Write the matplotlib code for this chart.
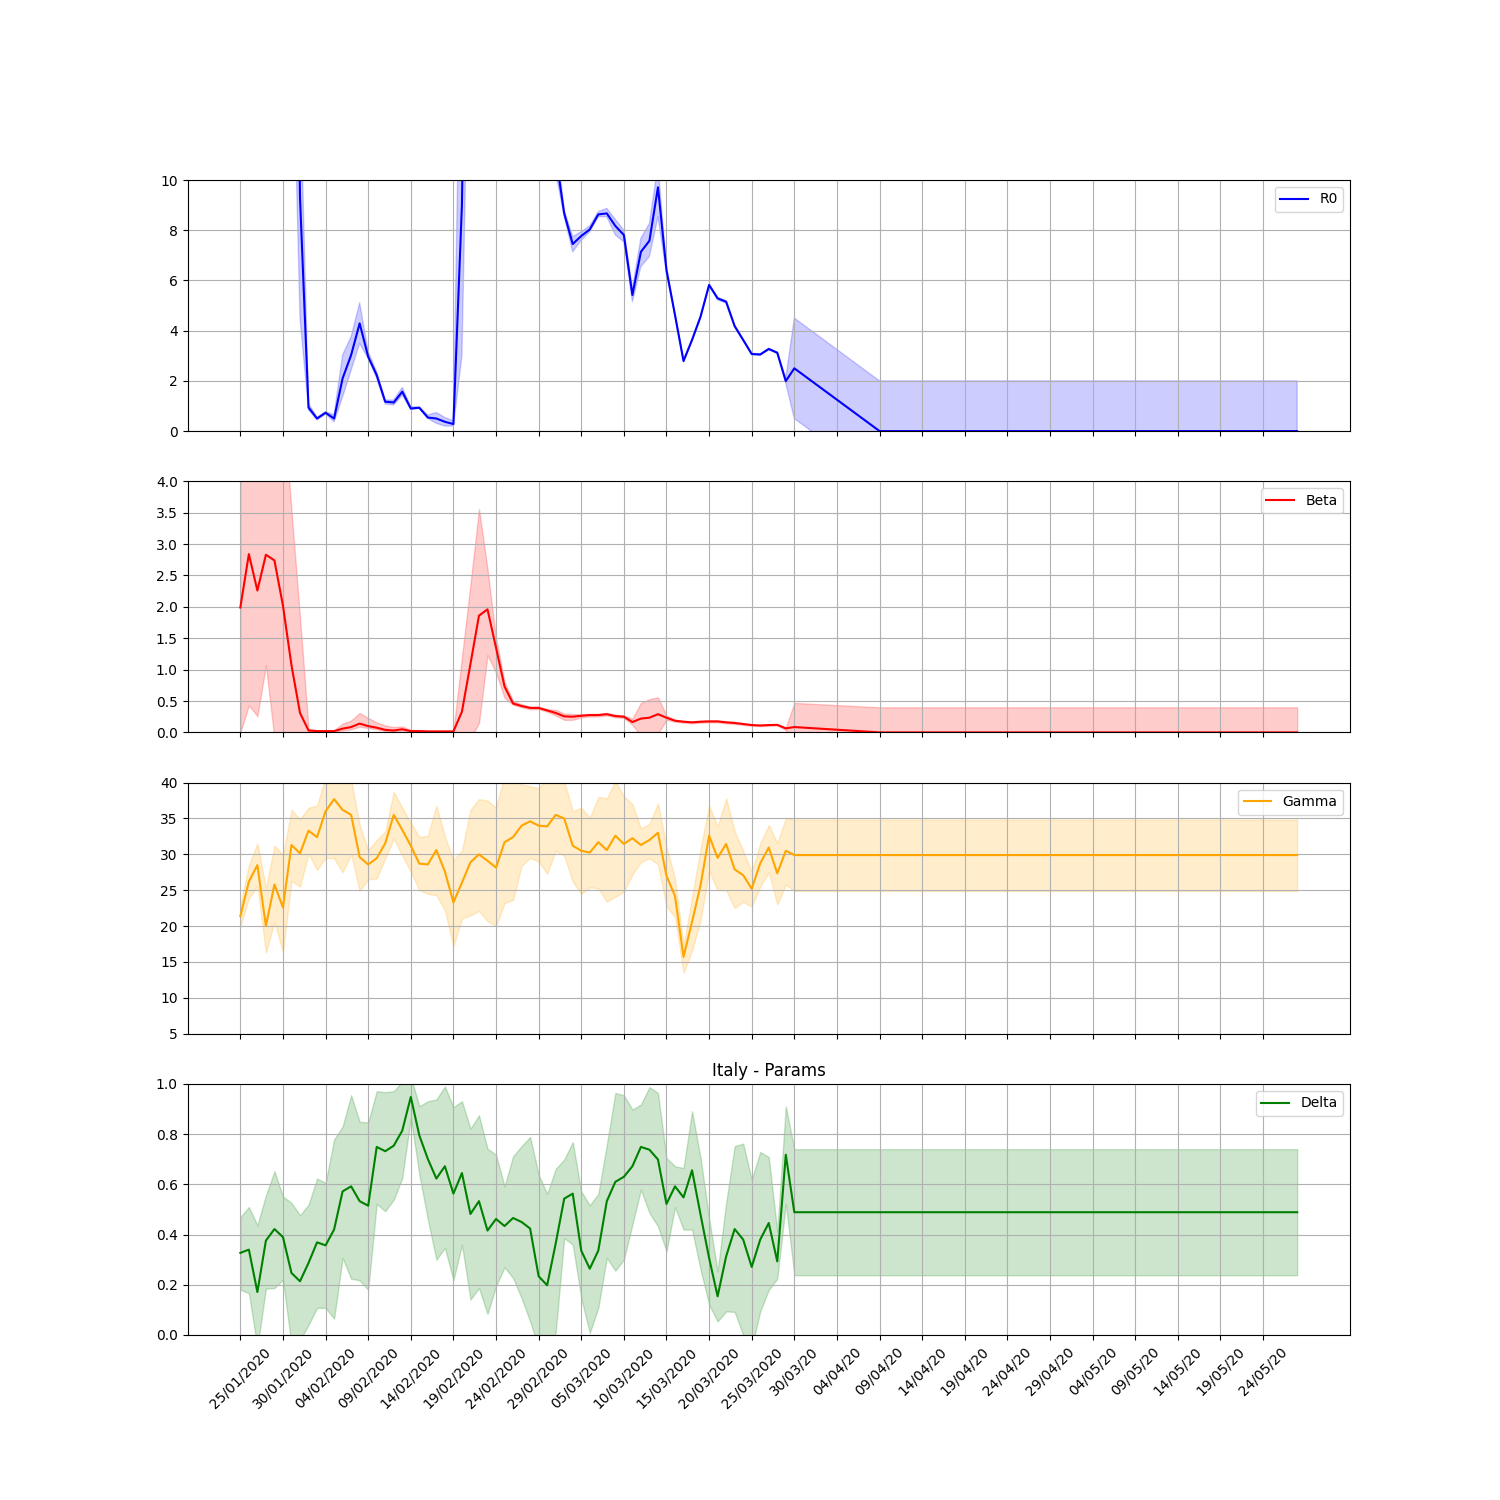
import matplotlib
matplotlib.use('Agg')

import matplotlib.pyplot as plt

# observed days (index from 25/01/2020) plus the projection points
days_obs = list(range(65))
days_fc = [65, 75, 124]

# R0
r0_obs = [42.8, 74.0, 64.0, 57.0, 71.0, 46.0, 33.5, 9.3, 0.94, 0.50,
          0.73, 0.50, 2.10, 3.03, 4.29, 2.96, 2.23, 1.17, 1.14, 1.57,
          0.90, 0.93, 0.54, 0.50, 0.37, 0.28, 9.0, 31.5, 55.8, 57.0,
          38.0, 23.0, 14.9, 14.6, 13.5, 13.3, 11.9, 11.0, 8.67, 7.45,
          7.77, 8.03, 8.63, 8.67, 8.17, 7.81, 5.42, 7.14, 7.58, 9.71,
          6.41, 4.62, 2.79, 3.63, 4.56, 5.82, 5.29, 5.15, 4.18, 3.63,
          3.07, 3.05, 3.27, 3.12, 1.99]
r0_lo_obs = [20.0, 40.0, 35.0, 30.0, 38.0, 25.0, 18.0, 4.5, 0.84, 0.45,
             0.68, 0.37, 1.37, 2.43, 3.49, 2.90, 2.10, 1.08, 1.04, 1.43,
             0.86, 0.90, 0.50, 0.31, 0.20, 0.20, 3.0, 20.0, 40.0, 45.0,
             30.0, 18.0, 12.5, 12.5, 11.5, 11.5, 10.6, 10.3, 8.54, 7.14,
             7.60, 7.94, 8.54, 8.54, 7.81, 7.54, 5.15, 6.55, 6.95, 8.54,
             6.28, 4.59, 2.76, 3.60, 4.53, 5.79, 5.22, 5.10, 4.14, 3.60,
             3.04, 3.02, 3.24, 3.09, 1.90]
r0_hi_obs = [70.0, 110.0, 95.0, 85.0, 105.0, 70.0, 50.0, 14.0, 1.10, 0.55,
             0.78, 0.64, 3.03, 3.76, 5.11, 3.16, 2.36, 1.24, 1.24, 1.74,
             0.97, 0.96, 0.64, 0.74, 0.54, 0.41, 20.0, 45.0, 75.0, 70.0,
             48.0, 30.0, 18.0, 17.0, 15.5, 15.0, 13.2, 11.8, 8.80, 7.74,
             7.94, 8.17, 8.74, 8.87, 8.43, 8.00, 5.68, 7.68, 8.27, 10.6,
             6.55, 4.66, 2.83, 3.67, 4.60, 5.86, 5.31, 5.20, 4.22, 3.66,
             3.10, 3.08, 3.30, 3.15, 2.10]
r0_fc = [2.5, 0.0, 0.0]
r0_lo_fc = [0.5, -2.0, -2.0]
r0_hi_fc = [4.5, 2.0, 2.0]

# Beta
beta_obs = [1.99, 2.84, 2.26, 2.83, 2.74, 2.02, 1.07, 0.31, 0.03, 0.02,
            0.02, 0.02, 0.06, 0.085, 0.14, 0.10, 0.075, 0.04, 0.03, 0.05,
            0.02, 0.02, 0.015, 0.015, 0.015, 0.015, 0.33, 1.09, 1.86, 1.96,
            1.35, 0.73, 0.46, 0.42, 0.39, 0.39, 0.35, 0.31, 0.255, 0.25,
            0.265, 0.276, 0.276, 0.29, 0.26, 0.25, 0.165, 0.22, 0.234, 0.29,
            0.234, 0.186, 0.17, 0.16, 0.17, 0.175, 0.175, 0.16, 0.15, 0.133,
            0.117, 0.11, 0.117, 0.12, 0.064]
beta_lo_obs = [0.0, 0.43, 0.26, 1.07, -0.1, -1.0, -1.5, -0.8, 0.01, 0.005,
               0.005, 0.005, 0.03, 0.05, 0.09, 0.07, 0.05, 0.02, 0.02, 0.03,
               0.01, 0.01, 0.005, 0.005, 0.005, 0.005, -0.05, -0.1, 0.15, 1.23,
               0.95, 0.55, 0.44, 0.40, 0.37, 0.37, 0.33, 0.27, 0.20, 0.20,
               0.24, 0.255, 0.255, 0.27, 0.24, 0.23, 0.12, -0.05, -0.1, -0.02,
               0.20, 0.17, 0.155, 0.145, 0.155, 0.16, 0.16, 0.145, 0.135, 0.12,
               0.105, 0.10, 0.105, 0.11, 0.04]
beta_hi_obs = [5.0, 5.5, 5.0, 5.2, 5.5, 5.3, 3.53, 1.83, 0.06, 0.035,
               0.035, 0.035, 0.14, 0.19, 0.31, 0.23, 0.16, 0.11, 0.085, 0.095,
               0.04, 0.035, 0.03, 0.03, 0.03, 0.03, 1.2, 2.36, 3.56, 2.6,
               1.5, 0.8, 0.5, 0.45, 0.41, 0.41, 0.37, 0.36, 0.30, 0.29,
               0.29, 0.295, 0.295, 0.31, 0.28, 0.27, 0.22, 0.47, 0.53, 0.56,
               0.27, 0.20, 0.185, 0.175, 0.185, 0.19, 0.19, 0.175, 0.165, 0.145,
               0.13, 0.12, 0.13, 0.13, 0.08]
beta_fc = [0.085, 0.0, 0.0]
beta_lo_fc = [-0.3, -0.4, -0.4]
beta_hi_fc = [0.47, 0.4, 0.4]

# Gamma
gamma_obs = [21.4, 26.2, 28.5, 20.0, 25.8, 22.6, 31.3, 30.15, 33.3, 32.4,
             36.0, 37.7, 36.2, 35.5, 29.6, 28.6, 29.45, 31.55, 35.5, 33.4,
             31.2, 28.7, 28.6, 30.6, 27.6, 23.3, 26.05, 28.9, 30.0, 29.1,
             28.15, 31.7, 32.4, 34.0, 34.6, 34.0, 33.9, 35.5, 35.0, 31.2,
             30.5, 30.25, 31.7, 30.6, 32.6, 31.45, 32.25, 31.3, 32.0, 33.0,
             27.0, 24.2, 15.7, 20.6, 25.7, 32.6, 29.5, 31.45, 27.9, 27.1,
             25.2, 28.75, 30.95, 27.35, 30.5]
gamma_lo_obs = [19.9, 23.9, 25.6, 16.3, 20.6, 16.4, 26.3, 25.5, 30.1, 27.8,
                29.5, 29.45, 27.5, 30.0, 24.9, 26.5, 26.65, 29.45, 32.2, 29.8,
                27.6, 25.0, 24.5, 24.3, 22.2, 17.2, 21.05, 21.5, 22.1, 20.7,
                20.0, 23.2, 23.65, 28.4, 29.5, 29.0, 27.3, 30.5, 29.8, 26.2,
                24.5, 25.4, 25.25, 23.4, 24.1, 24.8, 27.2, 28.9, 29.45, 28.6,
                22.7, 21.3, 13.5, 16.6, 20.8, 27.7, 25.0, 25.0, 22.5, 23.4,
                22.7, 25.5, 27.5, 23.0, 25.8]
gamma_hi_obs = [23.0, 28.5, 31.55, 25.3, 31.2, 29.9, 36.2, 34.9, 36.5, 36.8,
                40.8, 42.0, 42.0, 40.3, 34.1, 30.6, 32.0, 33.2, 38.7, 36.5,
                34.4, 32.4, 32.6, 36.8, 32.5, 29.2, 30.5, 36.2, 37.7, 37.5,
                36.5, 41.0, 41.0, 39.7, 39.5, 39.2, 40.5, 41.0, 40.2, 36.0,
                36.5, 35.1, 38.0, 37.8, 40.2, 38.1, 37.0, 33.6, 34.2, 37.1,
                31.1, 26.6, 17.3, 24.0, 30.85, 36.8, 33.9, 37.8, 33.2, 30.5,
                27.6, 31.55, 34.1, 31.55, 35.05]
gamma_fc = [29.9, 29.9, 29.9]
gamma_lo_fc = [24.9, 24.9, 24.9]
gamma_hi_fc = [34.85, 34.85, 34.85]

# Delta
delta_obs = [0.327, 0.34, 0.171, 0.376, 0.422, 0.39, 0.247, 0.214, 0.287, 0.369,
             0.357, 0.42, 0.572, 0.592, 0.533, 0.515, 0.749, 0.732, 0.754, 0.814,
             0.948, 0.795, 0.701, 0.623, 0.672, 0.563, 0.645, 0.482, 0.533, 0.416,
             0.462, 0.434, 0.466, 0.45, 0.424, 0.234, 0.198, 0.364, 0.543, 0.563,
             0.336, 0.264, 0.336, 0.533, 0.61, 0.63, 0.672, 0.749, 0.738, 0.699,
             0.522, 0.592, 0.548, 0.656, 0.479, 0.307, 0.154, 0.313, 0.422, 0.38,
             0.271, 0.38, 0.446, 0.293, 0.718]
delta_lo_obs = [0.18, 0.167, -0.05, 0.185, 0.187, 0.22, -0.04, -0.02, 0.04, 0.108,
                0.108, 0.065, 0.307, 0.224, 0.218, 0.18, 0.522, 0.493, 0.539, 0.625,
                0.865, 0.639, 0.46, 0.30, 0.347, 0.218, 0.36, 0.141, 0.187, 0.084,
                0.194, 0.27, 0.227, 0.147, 0.054, -0.05, -0.08, 0.01, 0.386, 0.36,
                0.147, 0.008, 0.108, 0.307, 0.256, 0.30, 0.44, 0.579, 0.486, 0.433,
                0.333, 0.509, 0.42, 0.42, 0.26, 0.121, 0.054, 0.094, 0.092, 0.0,
                -0.05, 0.094, 0.18, 0.224, 0.522]
delta_hi_obs = [0.469, 0.51, 0.437, 0.556, 0.652, 0.552, 0.526, 0.477, 0.519, 0.623,
                0.606, 0.778, 0.831, 0.955, 0.849, 0.847, 0.971, 0.967, 0.971, 1.01,
                1.03, 0.911, 0.931, 0.938, 0.99, 0.907, 0.931, 0.822, 0.875, 0.742,
                0.718, 0.592, 0.712, 0.752, 0.789, 0.639, 0.562, 0.661, 0.699, 0.768,
                0.572, 0.517, 0.562, 0.758, 0.964, 0.955, 0.898, 0.918, 0.987, 0.964,
                0.705, 0.672, 0.665, 0.891, 0.705, 0.466, 0.254, 0.526, 0.752, 0.762,
                0.619, 0.729, 0.709, 0.413, 0.911]
delta_fc = [0.489, 0.489, 0.489]
delta_lo_fc = [0.238, 0.238, 0.238]
delta_hi_fc = [0.74, 0.74, 0.74]

tick_labels = ['25/01/2020', '30/01/2020', '04/02/2020', '09/02/2020', '14/02/2020',
               '19/02/2020', '24/02/2020', '29/02/2020', '05/03/2020', '10/03/2020',
               '15/03/2020', '20/03/2020', '25/03/2020', '30/03/20', '04/04/20',
               '09/04/20', '14/04/20', '19/04/20', '24/04/20', '29/04/20',
               '04/05/20', '09/05/20', '14/05/20', '19/05/20', '24/05/20']

days = days_obs + days_fc
params = [
  ('R0', 'blue', r0_obs + r0_fc, r0_lo_obs + r0_lo_fc, r0_hi_obs + r0_hi_fc, (0, 10)),
  ('Beta', 'red', beta_obs + beta_fc, beta_lo_obs + beta_lo_fc, beta_hi_obs + beta_hi_fc, (0, 4)),
  ('Gamma', 'orange', gamma_obs + gamma_fc, gamma_lo_obs + gamma_lo_fc, gamma_hi_obs + gamma_hi_fc, (5, 40)),
  ('Delta', 'green', delta_obs + delta_fc, delta_lo_obs + delta_lo_fc, delta_hi_obs + delta_hi_fc, (0, 1)),
]

fig, axs = plt.subplots(4, 1, figsize=(15, 15), sharex=True)

for ax, (name, col, y, lo, hi, lim) in zip(axs, params):
  ax.plot(days, y, color=col, label=name)
  ax.fill_between(days, lo, hi, color=col, alpha=0.2)
  ax.set_ylim(lim)
  ax.grid()
  ax.legend(loc='upper right')

plt.xticks(range(0, 121, 5), tick_labels, rotation=45)
plt.title('Italy - Params')

plt.savefig('out.png', dpi=100)
